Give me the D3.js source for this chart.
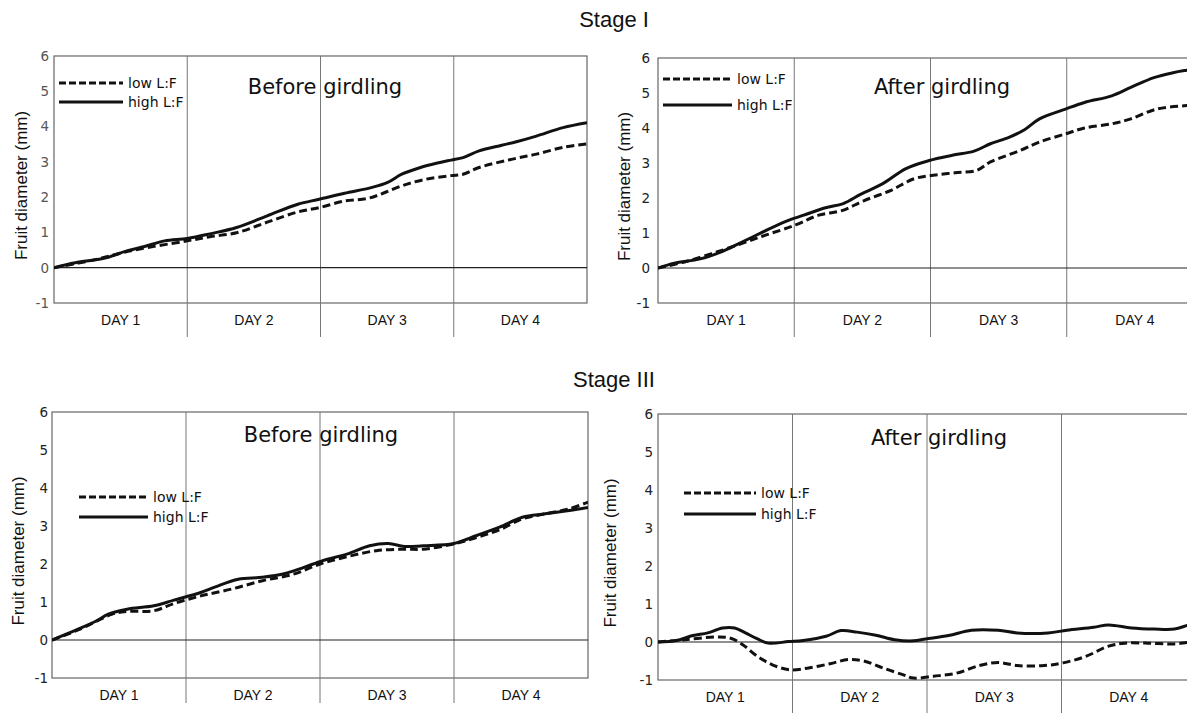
<!DOCTYPE html>
<html>
<head>
<meta charset="utf-8">
<script src="https://cdn.jsdelivr.net/npm/d3@7"></script>
<style>
  html, body { margin: 0; padding: 0; background: #fff; }
  svg { display: block; }
</style>
</head>
<body>
<svg id="chart" width="1187" height="713"></svg>
<script>
// ---------------- DATA ----------------
const dayLabels = ["DAY 1", "DAY 2", "DAY 3", "DAY 4"];
const yTickValues = [-1, 0, 1, 2, 3, 4, 5, 6];
const stageTitles = ["Stage I", "Stage III"];
const panelTitles = ["Before girdling", "After girdling", "Before girdling", "After girdling"];
const seriesNames = ["low L:F", "high L:F"];

// [time in days, fruit diameter change (mm)]
const stage1BeforeLow = [[0,0],[0.31,0.23],[0.6,0.5],[1.0,0.76],[1.17,0.88],[1.37,0.99],[1.6,1.29],[1.83,1.58],[1.99,1.7],[2.18,1.89],[2.35,1.96],[2.47,2.11],[2.61,2.32],[2.78,2.5],[2.98,2.61],[3.07,2.65],[3.19,2.84],[3.42,3.06],[3.62,3.22],[3.82,3.41],[4.0,3.51]];
const stage1BeforeHigh = [[0,0],[0.16,0.14],[0.39,0.28],[0.54,0.47],[0.68,0.6],[0.83,0.76],[1.0,0.83],[1.17,0.96],[1.37,1.14],[1.6,1.47],[1.83,1.8],[1.99,1.94],[2.18,2.11],[2.38,2.27],[2.5,2.41],[2.61,2.65],[2.75,2.84],[2.87,2.96],[2.98,3.05],[3.07,3.12],[3.19,3.31],[3.36,3.47],[3.47,3.57],[3.62,3.73],[3.82,3.97],[4.0,4.11]];
const stage1AfterLow = [[0,0],[0.2,0.18],[0.48,0.52],[0.76,0.9],[1.01,1.23],[1.18,1.51],[1.35,1.64],[1.51,1.92],[1.71,2.22],[1.88,2.55],[2.02,2.65],[2.18,2.72],[2.34,2.79],[2.44,3.03],[2.66,3.36],[2.8,3.6],[2.99,3.83],[3.13,4.0],[3.33,4.12],[3.47,4.26],[3.66,4.54],[3.88,4.64],[4.0,4.67]];
const stage1AfterHigh = [[0,0],[0.12,0.14],[0.31,0.26],[0.47,0.47],[0.59,0.69],[0.76,1.01],[0.93,1.32],[1.07,1.51],[1.23,1.72],[1.36,1.84],[1.49,2.11],[1.65,2.41],[1.82,2.84],[1.99,3.07],[2.16,3.22],[2.32,3.34],[2.44,3.55],[2.58,3.74],[2.69,3.95],[2.8,4.26],[2.99,4.54],[3.13,4.73],[3.33,4.92],[3.47,5.16],[3.64,5.44],[3.78,5.58],[3.88,5.65],[4.0,5.72]];
const stage3BeforeLow = [[0,0],[0.2,0.27],[0.45,0.68],[0.56,0.75],[0.76,0.77],[0.91,0.96],[1.11,1.16],[1.34,1.34],[1.57,1.56],[1.8,1.73],[2.0,2.0],[2.2,2.19],[2.42,2.35],[2.63,2.39],[2.77,2.39],[3.0,2.53],[3.17,2.7],[3.34,2.9],[3.51,3.19],[3.68,3.32],[3.86,3.45],[4.0,3.63]];
const stage3BeforeHigh = [[0,0],[0.19,0.28],[0.33,0.5],[0.42,0.68],[0.56,0.81],[0.76,0.9],[0.91,1.05],[1.11,1.25],[1.22,1.4],[1.39,1.6],[1.57,1.65],[1.74,1.75],[1.88,1.91],[2.02,2.09],[2.2,2.26],[2.37,2.48],[2.51,2.54],[2.63,2.46],[2.77,2.48],[3.0,2.54],[3.17,2.75],[3.34,2.97],[3.51,3.23],[3.68,3.32],[3.86,3.41],[4.0,3.49]];
const stage3AfterLow = [[0,0],[0.2,0.06],[0.43,0.13],[0.54,0.1],[0.63,-0.07],[0.74,-0.38],[0.85,-0.6],[0.98,-0.73],[1.11,-0.69],[1.28,-0.57],[1.42,-0.46],[1.53,-0.5],[1.67,-0.68],[1.82,-0.86],[1.9,-0.95],[2.05,-0.9],[2.22,-0.82],[2.39,-0.62],[2.53,-0.54],[2.67,-0.62],[2.87,-0.62],[3.01,-0.55],[3.18,-0.38],[3.35,-0.11],[3.47,-0.03],[3.64,-0.03],[3.84,-0.05],[3.94,-0.01],[4.0,0.0]];
const stage3AfterHigh = [[0,0],[0.14,0.04],[0.26,0.17],[0.37,0.24],[0.48,0.37],[0.57,0.37],[0.65,0.24],[0.74,0.08],[0.82,-0.03],[0.97,0.01],[1.08,0.04],[1.25,0.15],[1.36,0.3],[1.48,0.26],[1.62,0.18],[1.76,0.06],[1.9,0.03],[1.99,0.08],[2.16,0.17],[2.33,0.31],[2.53,0.31],[2.67,0.24],[2.9,0.24],[3.04,0.31],[3.24,0.39],[3.35,0.45],[3.52,0.37],[3.69,0.34],[3.84,0.34],[3.94,0.44],[4.0,0.48]];

// ---------------- LAYOUT ----------------
const panels = [
  { low: stage1BeforeLow, high: stage1BeforeHigh, title: panelTitles[0],
    left: 54, right: 587, top: 56, bottom: 303, tickColor: "#555", tickGap: 5,
    titleX: 325, titleY: 94, legX: 59, legW: 64, legY: 83, legDy: 19,
    sepExt: 34, ylabX: 21, tickSize: 13.5 },
  { low: stage1AfterLow, high: stage1AfterHigh, title: panelTitles[1],
    left: 658, right: 1203, top: 58, bottom: 303, tickColor: "#222", tickGap: 8,
    titleX: 942, titleY: 94, legX: 663, legW: 69, legY: 79, legDy: 26,
    sepExt: 34, ylabX: 624, tickSize: 13.5 },
  { low: stage3BeforeLow, high: stage3BeforeHigh, title: panelTitles[2],
    left: 52, right: 588, top: 412, bottom: 678, tickColor: "#222", tickGap: 4,
    titleX: 321, titleY: 442, legX: 79, legW: 69, legY: 497, legDy: 20,
    sepExt: 25, ylabX: 18, tickSize: 13.5 },
  { low: stage3AfterLow, high: stage3AfterHigh, title: panelTitles[3],
    left: 658, right: 1196, top: 414, bottom: 680, tickColor: "#222", tickGap: 5,
    titleX: 939, titleY: 445, legX: 684, legW: 72, legY: 493, legDy: 21,
    sepExt: 35, ylabX: 610, tickSize: 13.5 }
];

const svg = d3.select("#chart");

// Stage titles
stageTitles.forEach((t, i) => {
  svg.append("text").attr("x", 614).attr("y", i === 0 ? 27 : 387).attr("text-anchor", "middle")
    .attr("font-family", "Liberation Sans, Arial, sans-serif").attr("font-size", 22)
    .attr("fill", "#111").text(t);
});

const DASH = "8,4";

panels.forEach((p, i) => {
  const g = svg.append("g");
  const x = d3.scaleLinear().domain([0, 4]).range([p.left, p.right]);
  const y = d3.scaleLinear().domain([-1, 6]).range([p.bottom, p.top]);
  const band = d3.scaleBand().domain(dayLabels).range([p.left, p.right]);

  // frame
  g.append("rect").attr("x", p.left).attr("y", p.top)
    .attr("width", p.right - p.left).attr("height", p.bottom - p.top)
    .attr("fill", "none").attr("stroke", "#666").attr("stroke-width", 1.2);

  // day separators (extend below plot)
  g.selectAll("line.sep").data(dayLabels.slice(1)).enter().append("line")
    .attr("x1", d => band(d)).attr("x2", d => band(d))
    .attr("y1", p.top).attr("y2", p.bottom + p.sepExt)
    .attr("stroke", "#777").attr("stroke-width", 1);

  // zero line
  g.append("line").attr("x1", p.left).attr("x2", p.right)
    .attr("y1", y(0)).attr("y2", y(0)).attr("stroke", "#222").attr("stroke-width", 1.2);

  // y axis ticks
  const yAxis = d3.axisLeft(y).tickValues(yTickValues).tickSize(0).tickPadding(p.tickGap)
    .tickFormat(d => String(d));
  const ya = g.append("g").attr("transform", `translate(${p.left},0)`).call(yAxis);
  ya.select(".domain").remove();
  ya.selectAll("text").attr("font-family", "DejaVu Sans, sans-serif")
    .attr("font-size", p.tickSize).attr("fill", p.tickColor);

  // day labels
  const xAxis = d3.axisBottom(band).tickSize(0).tickPadding(0);
  const xa = g.append("g").attr("transform", `translate(0,${p.bottom})`).call(xAxis);
  xa.select(".domain").remove();
  xa.selectAll("text").attr("font-family", "Liberation Sans, Arial, sans-serif")
    .attr("font-size", 14).attr("fill", "#111").attr("dy", null).attr("y", 22);

  // y axis title
  g.append("text")
    .attr("transform", `translate(${p.ylabX},${(p.top + p.bottom) / 2 + 6}) rotate(-90)`)
    .attr("text-anchor", "middle").attr("dy", "0.35em")
    .attr("font-family", "Liberation Sans, Arial, sans-serif").attr("font-size", 17)
    .attr("fill", "#111").text("Fruit diameter (mm)");

  // panel title
  g.append("text").attr("x", p.titleX).attr("y", p.titleY).attr("text-anchor", "middle")
    .attr("font-family", "DejaVu Sans, sans-serif").attr("font-size", 21)
    .attr("fill", "#111").text(p.title);

  // series
  const clipId = "clip" + i;
  svg.append("clipPath").attr("id", clipId).append("rect")
    .attr("x", p.left).attr("y", p.top - 5).attr("width", p.right - p.left).attr("height", p.bottom - p.top + 10);
  const line = d3.line().x(d => x(d[0])).y(d => y(d[1])).curve(d3.curveCatmullRom.alpha(0.5));
  const sg = g.append("g").attr("clip-path", `url(#${clipId})`);
  sg.append("path").datum(p.low).attr("d", line).attr("fill", "none")
    .attr("stroke", "#111").attr("stroke-width", 3).attr("stroke-dasharray", DASH);
  sg.append("path").datum(p.high).attr("d", line).attr("fill", "none")
    .attr("stroke", "#111").attr("stroke-width", 3);

  // legend
  const leg = g.append("g");
  seriesNames.forEach((name, k) => {
    const ly = p.legY + k * p.legDy;
    leg.append("line").attr("x1", p.legX).attr("x2", p.legX + p.legW)
      .attr("y1", ly).attr("y2", ly).attr("stroke", "#111").attr("stroke-width", 3)
      .attr("stroke-dasharray", k === 0 ? "7,3" : null);
    leg.append("text").attr("x", p.legX + p.legW + 5).attr("y", ly).attr("dy", "0.36em")
      .attr("font-family", "DejaVu Sans, sans-serif").attr("font-size", 14)
      .attr("fill", "#111").text(name);
  });
});
</script>
</body>
</html>
